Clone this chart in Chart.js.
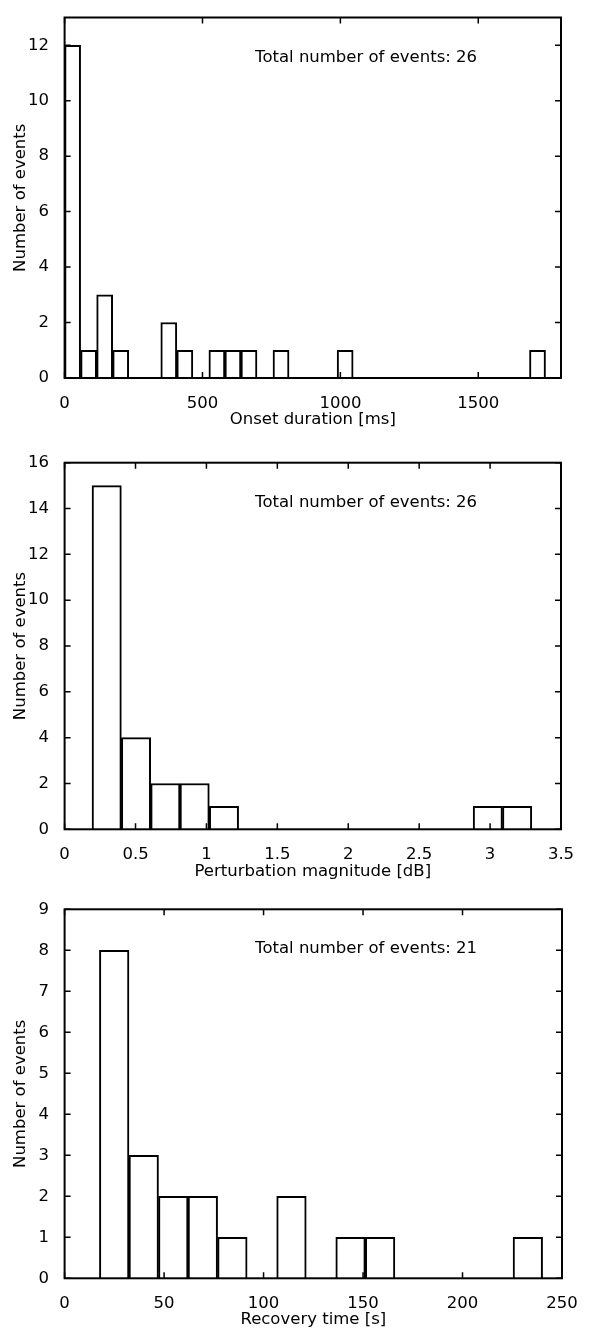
<!DOCTYPE html>
<html>
<head>
<meta charset="utf-8">
<title>Event histograms</title>
<script src="https://cdn.jsdelivr.net/npm/chart.js@4.4.1/dist/chart.umd.min.js"></script>
<style>
  html, body { margin: 0; padding: 0; background: #fff; }
  #page { position: relative; width: 589px; height: 1334px; }
  canvas { position: absolute; left: 0; }
</style>
</head>
<body>
<div id="page">
  <canvas id="onset" width="589" height="430" style="top:0px"></canvas>
  <canvas id="magnitude" width="589" height="460" style="top:430px"></canvas>
  <canvas id="recovery" width="589" height="444" style="top:890px"></canvas>
</div>
<script>
// onset duration histogram (30 equal bins, 0 .. 1744 ms)
const onsetBinStart = 0;
const onsetBinWidth = 58.13;
const onsetCounts = [12, 1, 3, 1, 0, 0, 2, 1, 0, 1, 1, 1, 0, 1, 0, 0, 0, 1, 0, 0, 0, 0, 0, 0, 0, 0, 0, 0, 0, 1];
const onsetXTicks = [0, 500, 1000, 1500];
const onsetYTicks = [0, 2, 4, 6, 8, 10, 12];

// perturbation magnitude histogram (15 bins)
const magBinStart = 0.1935;
const magBinWidth = 0.2067;
const magCounts = [15, 4, 2, 2, 1, 0, 0, 0, 0, 0, 0, 0, 0, 1, 1];
const magXTicks = [0, 0.5, 1, 1.5, 2, 2.5, 3, 3.5];
const magYTicks = [0, 2, 4, 6, 8, 10, 12, 14, 16];

// recovery time histogram (15 bins)
const recBinStart = 17.5;
const recBinWidth = 14.85;
const recCounts = [8, 3, 2, 2, 1, 0, 2, 0, 1, 1, 0, 0, 0, 0, 1];
const recXTicks = [0, 50, 100, 150, 200, 250];
const recYTicks = [0, 1, 2, 3, 4, 5, 6, 7, 8, 9];

Chart.defaults.font.family = "'DejaVu Sans', sans-serif";
Chart.defaults.font.size = 16.5;
Chart.defaults.color = '#000';

// box around the plot, inward tick marks on all four sides, and the event total
const framePlugin = {
  id: 'frame',
  afterDatasetsDraw(chart, args, opts) {
    const { ctx, chartArea: a, scales: { x, y } } = chart;
    const len = 6;
    ctx.save();
    ctx.strokeStyle = '#000';
    ctx.lineWidth = 1.5;
    ctx.beginPath();
    x.ticks.forEach(t => {
      const px = x.getPixelForValue(t.value);
      ctx.moveTo(px, a.bottom); ctx.lineTo(px, a.bottom - len);
      ctx.moveTo(px, a.top); ctx.lineTo(px, a.top + len);
    });
    y.ticks.forEach(t => {
      const py = y.getPixelForValue(t.value);
      ctx.moveTo(a.left, py); ctx.lineTo(a.left + len, py);
      ctx.moveTo(a.right, py); ctx.lineTo(a.right - len, py);
    });
    ctx.stroke();
    ctx.lineWidth = 2;
    ctx.strokeRect(a.left, a.top, a.right - a.left, a.bottom - a.top);

    ctx.fillStyle = '#000';
    ctx.font = "16.5px 'DejaVu Sans', sans-serif";
    ctx.textAlign = 'left';
    ctx.textBaseline = 'alphabetic';
    ctx.fillText(opts.note, a.left + 190.5, a.top + 44);
    ctx.restore();
  }
};

function histogram(id, cfg) {
  const points = cfg.counts.map((c, i) => ({ x: cfg.start + (i + 0.5) * cfg.width, y: c }));
  const lh = 16.5 * 1.2;
  const xAxisHeight = cfg.titleY + lh / 2 - cfg.bottom;
  const canvasHeight = document.getElementById(id).height;

  return new Chart(document.getElementById(id), {
    type: 'bar',
    data: {
      datasets: [{
        data: points,
        backgroundColor: '#fff',
        borderColor: '#000',
        borderWidth: 2,
        borderSkipped: 'start',
        barPercentage: 1,
        categoryPercentage: 1
      }]
    },
    options: {
      responsive: false,
      animation: false,
      events: [],
      layout: {
        padding: {
          left: 5,
          right: 589 - cfg.right,
          top: cfg.top,
          bottom: canvasHeight - cfg.bottom - xAxisHeight
        }
      },
      scales: {
        x: {
          type: 'linear',
          min: cfg.xMin,
          max: cfg.xMax,
          offset: false,
          grid: { display: false, offset: false },
          border: { display: false },
          ticks: {
            padding: 8,
            maxRotation: 0,
            autoSkip: false,
            callback: v => String(v)
          },
          afterBuildTicks: s => { s.ticks = cfg.xTicks.map(v => ({ value: v })); },
          afterFit: s => { s.height = xAxisHeight; },
          title: { display: true, text: cfg.xTitle, padding: { top: 0, bottom: 0 } }
        },
        y: {
          min: 0,
          max: cfg.yMax,
          grid: { display: false },
          border: { display: false },
          ticks: { padding: 7.6, autoSkip: false, callback: v => String(v) },
          afterBuildTicks: s => { s.ticks = cfg.yTicks.map(v => ({ value: v })); },
          afterFit: s => { s.width = 64.6 - 5; },
          title: { display: true, text: 'Number of events', padding: { top: 6, bottom: 0 } }
        }
      },
      plugins: {
        legend: { display: false },
        tooltip: { enabled: false },
        frame: { note: cfg.note }
      }
    },
    plugins: [framePlugin]
  });
}

histogram('onset', {
  start: onsetBinStart, width: onsetBinWidth, counts: onsetCounts,
  xTicks: onsetXTicks, yTicks: onsetYTicks,
  xMin: 0, xMax: 1800, yMax: 13,
  top: 10, bottom: 378, right: 561, titleY: 420,
  xTitle: 'Onset duration [ms]',
  note: 'Total number of events: 26'
});

histogram('magnitude', {
  start: magBinStart, width: magBinWidth, counts: magCounts,
  xTicks: magXTicks, yTicks: magYTicks,
  xMin: 0, xMax: 3.5, yMax: 16,
  top: 32.7, bottom: 399.3, right: 561, titleY: 442,
  xTitle: 'Perturbation magnitude [dB]',
  note: 'Total number of events: 26'
});

histogram('recovery', {
  start: recBinStart, width: recBinWidth, counts: recCounts,
  xTicks: recXTicks, yTicks: recYTicks,
  xMin: 0, xMax: 250, yMax: 9,
  top: 19.3, bottom: 388.3, right: 562, titleY: 430,
  xTitle: 'Recovery time [s]',
  note: 'Total number of events: 21'
});
</script>
</body>
</html>
